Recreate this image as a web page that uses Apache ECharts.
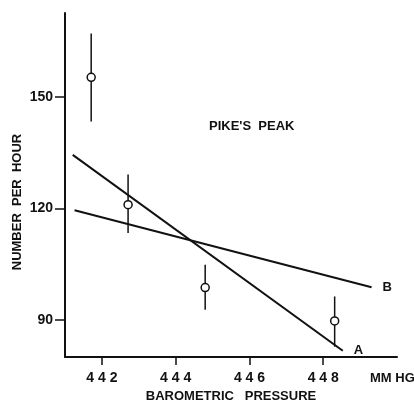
<!DOCTYPE html>
<html>
<head>
<meta charset="utf-8">
<script src="https://cdn.jsdelivr.net/npm/echarts@6/dist/echarts.min.js"></script>
<style>
  html, body { margin: 0; padding: 0; background: #fff; }
  #chart { width: 414px; height: 403px; }
</style>
</head>
<body>
<div id="chart"></div>
<script>
// observed points (mean with vertical range)
var pressure = [441.71, 442.71, 444.8, 448.31];
var rate = [155.3, 121, 98.7, 89.7];
var errLow = [143.4, 113.4, 92.7, 82.8];
var errHigh = [167.1, 129.1, 104.8, 96.3];

// fitted lines, end points
var lineA = [[441.21, 134.4], [448.53, 81.7]];
var lineB = [[441.26, 119.5], [449.31, 98.8]];

// ticks
var xTicks = [442, 444, 446, 448];
var yTicks = [90, 120, 150];

var font = '"Liberation Sans", "DejaVu Sans", sans-serif';
var ink = '#111';

var points = pressure.map(function (p, i) { return [p, rate[i]]; });
var bars = pressure.map(function (p, i) { return [p, errLow[i], errHigh[i]]; });

var myChart = echarts.init(document.getElementById('chart'));

var option = {
    animation: false,
    backgroundColor: '#fff',
    grid: { left: 65, right: 17, top: 13, bottom: 46, outerBoundsMode: 'none', containLabel: false },
    xAxis: {
        type: 'value',
        min: 441,
        max: 450,
        name: 'BAROMETRIC   PRESSURE',
        nameLocation: 'middle',
        nameGap: 33,
        nameTextStyle: { color: ink, fontFamily: font, fontWeight: 'bold', fontSize: 13 },
        axisLine: { lineStyle: { color: ink, width: 2 } },
        axisTick: { customValues: xTicks, length: 8, lineStyle: { color: ink, width: 1.5 } },
        axisLabel: {
            customValues: xTicks,
            margin: 14,
            color: ink, fontFamily: font, fontWeight: 'bold', fontSize: 14,
            formatter: function (v) { return String(v).split('').join(' '); }
        },
        splitLine: { show: false }
    },
    yAxis: {
        type: 'value',
        min: 80,
        max: 172.6,
        axisLine: { show: true, lineStyle: { color: ink, width: 2 } },
        axisTick: { show: true, customValues: yTicks, length: 10, lineStyle: { color: ink, width: 1.5 } },
        axisLabel: {
            customValues: yTicks,
            margin: 12,
            color: ink, fontFamily: font, fontWeight: 'bold', fontSize: 14
        },
        splitLine: { show: false }
    },
    graphic: [
        {
            type: 'text', x: 17, y: 202, rotation: Math.PI / 2,
            style: {
                text: 'NUMBER  PER  HOUR', fill: ink, font: 'bold 13px ' + font,
                align: 'center', verticalAlign: 'middle'
            }
        },
        {
            type: 'text', x: 209, y: 126,
            style: {
                text: "PIKE'S  PEAK", fill: ink, font: 'bold 13px ' + font,
                align: 'left', verticalAlign: 'middle'
            }
        },
        {
            type: 'text', x: 370, y: 378,
            style: {
                text: 'MM HG', fill: ink, font: 'bold 13px ' + font,
                align: 'left', verticalAlign: 'middle'
            }
        }
    ],
    series: [
        {
            type: 'line', data: lineA, symbol: 'none',
            lineStyle: { color: ink, width: 2 },
            endLabel: { show: true, formatter: 'A', color: ink, fontFamily: font, fontWeight: 'bold', fontSize: 13, distance: 11 }
        },
        {
            type: 'line', data: lineB, symbol: 'none',
            lineStyle: { color: ink, width: 2 },
            endLabel: { show: true, formatter: 'B', color: ink, fontFamily: font, fontWeight: 'bold', fontSize: 13, distance: 11 }
        },
        {
            type: 'custom',
            data: bars,
            renderItem: function (params, api) {
                var lo = api.coord([api.value(0), api.value(1)]);
                var hi = api.coord([api.value(0), api.value(2)]);
                return {
                    type: 'line',
                    shape: { x1: lo[0], y1: lo[1], x2: hi[0], y2: hi[1] },
                    style: { stroke: ink, lineWidth: 1.5 }
                };
            },
            z: 3
        },
        {
            type: 'scatter', data: points, symbol: 'circle', symbolSize: 8,
            itemStyle: { color: '#fff', borderColor: ink, borderWidth: 1.5, opacity: 1 },
            z: 4
        }
    ]
};

myChart.setOption(option);
</script>
</body>
</html>
